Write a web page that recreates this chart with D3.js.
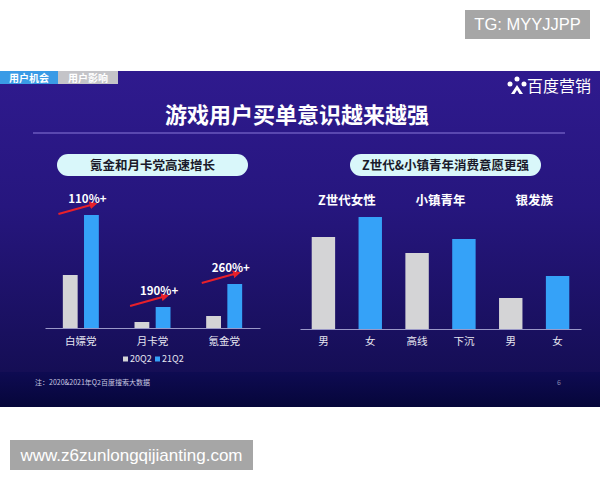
<!DOCTYPE html>
<html><head><meta charset="utf-8">
<script src="https://cdn.jsdelivr.net/npm/d3@7"></script>
<style>body{margin:0;background:#fff}svg{display:block}text{font-family:"Noto Sans CJK SC","Noto Sans",sans-serif}text.wm{font-family:"Liberation Sans",Arial,sans-serif}</style>
</head><body><svg id="c" width="600" height="480"></svg>
<script>
// Left chart data
const leftCategories = ["白嫖党","月卡党","氪金党"];
const leftSeries = ["20Q2","21Q2"];
const left20Q2 = [53, 6, 12];
const left21Q2 = [113, 21, 44];
const growthLabels = ["110%+","190%+","260%+"];
// Right chart data
const rightCategories = ["男","女","高线","下沉","男","女"];
const rightValues = [92, 112, 76, 90, 31, 53];
const rightGroups = ["Z世代女性","小镇青年","银发族"];

const svg = d3.select("#c");
const defs = svg.append("defs");
const bg = defs.append("linearGradient").attr("id","bg").attr("x1",0).attr("y1",0).attr("x2",0).attr("y2",1);
bg.append("stop").attr("offset","0").attr("stop-color","#2f1a8e");
bg.append("stop").attr("offset","0.45").attr("stop-color","#26167e");
bg.append("stop").attr("offset","1").attr("stop-color","#150e55");
const ft = defs.append("linearGradient").attr("id","ft").attr("x1",0).attr("y1",0).attr("x2",0).attr("y2",1);
ft.append("stop").attr("offset","0").attr("stop-color","#0e0b52");
ft.append("stop").attr("offset","1").attr("stop-color","#06063a");
const ar = defs.append("marker").attr("id","arr").attr("viewBox","0 0 10 10").attr("refX",6).attr("refY",5)
  .attr("markerWidth",4).attr("markerHeight",4).attr("orient","auto");
ar.append("path").attr("d","M0,0L10,5L0,10z").attr("fill","#e8202a");

// slide
svg.append("rect").attr("x",0).attr("y",71).attr("width",600).attr("height",301).attr("fill","url(#bg)");
svg.append("rect").attr("x",0).attr("y",372).attr("width",600).attr("height",35).attr("fill","url(#ft)");

// tabs
svg.append("rect").attr("x",0).attr("y",71).attr("width",58).attr("height",13).attr("fill","#3a9be6");
svg.append("rect").attr("x",58).attr("y",71).attr("width",60).attr("height",13).attr("fill","#c4c4c8");
svg.append("text").attr("x",29).attr("y",81.5).attr("text-anchor","middle").attr("font-size",10).attr("font-weight","bold").attr("fill","#fff").text("用户机会");
svg.append("text").attr("x",88).attr("y",81.5).attr("text-anchor","middle").attr("font-size",10).attr("font-weight","bold").attr("fill","#fff").text("用户影响");

// logo
const lg = svg.append("g").attr("transform","translate(517,86)");
lg.append("circle").attr("cx",-7).attr("cy",-2).attr("r",2.5).attr("fill","#fff");
lg.append("circle").attr("cx",0).attr("cy",-7).attr("r",2.5).attr("fill","#fff");
lg.append("circle").attr("cx",7).attr("cy",-2).attr("r",2.5).attr("fill","#fff");
lg.append("path").attr("d","M-6,8L0,-1L6,8L2.5,8L0,4L-2.5,8z").attr("fill","#fff");
svg.append("text").attr("x",527).attr("y",92).attr("font-size",16).attr("fill","#fff").text("百度营销");

// title
svg.append("text").attr("x",297).attr("y",123).attr("text-anchor","middle").attr("font-size",22).attr("font-weight","bold").attr("fill","#fff").text("游戏用户买单意识越来越强");
svg.append("line").attr("x1",33).attr("x2",565).attr("y1",133).attr("y2",133).attr("stroke","#8a78d8").attr("stroke-width",1);

// pills
[[57,"氪金和月卡党高速增长"],[350,"Z世代&小镇青年消费意愿更强"]].forEach(([x,t])=>{
  svg.append("rect").attr("x",x).attr("y",154).attr("width",191).attr("height",22).attr("rx",11).attr("fill","#d9f7fa");
  svg.append("text").attr("x",x+95.5).attr("y",169.5).attr("text-anchor","middle").attr("font-size",12.5).attr("font-weight","bold").attr("fill","#1a1a2a").text(t);
});

const GRAY="#d4d4d6", BLUE="#35a2f8";

// left chart
const lx = d3.scaleBand().domain(leftCategories).range([45,260]);
const lx1 = d3.scaleBand().domain(leftSeries).range([-18,18]).paddingInner(0.3);
const ly = d3.scaleLinear().domain([0,120]).range([328,208]);
const lg2 = svg.append("g");
leftCategories.forEach((c,i)=>{
  const cx = lx(c)+lx.bandwidth()/2;
  [[left20Q2[i],"20Q2",GRAY],[left21Q2[i],"21Q2",BLUE]].forEach(([v,s,col])=>{
    lg2.append("rect").attr("x",cx+lx1(s)).attr("width",lx1.bandwidth()).attr("y",ly(v)).attr("height",ly(0)-ly(v)).attr("fill",col);
  });
  const topY = ly(left21Q2[i]);
  const bx = cx+lx1("21Q2")+lx1.bandwidth()/2;
  lg2.append("line").attr("x1",bx-33).attr("y1",topY-1).attr("x2",bx+3).attr("y2",topY-11)
    .attr("stroke","#e8202a").attr("stroke-width",2).attr("marker-end","url(#arr)");
  lg2.append("text").attr("x",bx-4).attr("y",topY-12).attr("text-anchor","middle").attr("font-size",11.5).attr("font-weight","bold").attr("fill","#fff").text(growthLabels[i]);
});
const laxis = svg.append("g").attr("transform","translate(0,328)").call(d3.axisBottom(lx).tickSize(0).tickPadding(10));
laxis.select(".domain").attr("stroke","#9a98c8").attr("stroke-width",1);
laxis.selectAll("text").attr("fill","#e6e6f0").attr("font-size",10.5);

// legend
const leg = svg.append("g");
[[123,"20Q2",GRAY],[155,"21Q2",BLUE]].forEach(([x,t,col])=>{
  leg.append("rect").attr("x",x).attr("y",356.5).attr("width",5).attr("height",5).attr("fill",col);
  leg.append("text").attr("x",x+7).attr("y",362).attr("font-size",9).attr("fill","#e6e6f0").text(t);
});

// right chart
const rx = d3.scaleBand().domain(d3.range(rightCategories.length)).range([300,581]).paddingInner(0.5).paddingOuter(0.25);
const ry = d3.scaleLinear().domain([0,120]).range([329,209]);
svg.append("g").selectAll("rect").data(rightValues).join("rect")
  .attr("x",(d,i)=>rx(i)).attr("width",rx.bandwidth()).attr("y",d=>ry(d)).attr("height",d=>ry(0)-ry(d))
  .attr("fill",(d,i)=>i%2===0?GRAY:BLUE);
const raxis = svg.append("g").attr("transform","translate(0,329)").call(d3.axisBottom(rx).tickSize(0).tickPadding(9).tickFormat(i=>rightCategories[i]));
raxis.select(".domain").attr("stroke","#9a98c8").attr("stroke-width",1);
raxis.selectAll("text").attr("fill","#e6e6f0").attr("font-size",10.5);
rightGroups.forEach((g,k)=>{
  const cx = (rx(2*k)+rx(2*k+1)+rx.bandwidth())/2;
  svg.append("text").attr("x",cx).attr("y",205).attr("text-anchor","middle").attr("font-size",12.5).attr("font-weight","bold").attr("fill","#fff").text(g);
});

// footer
svg.append("text").attr("x",35).attr("y",385).attr("font-size",7).attr("fill","#c8c8e0").text("注：2020&2021年Q2百度搜索大数据");
svg.append("text").attr("x",557).attr("y",385).attr("font-size",7).attr("fill","#8888b0").text("6");

// watermarks
svg.append("rect").attr("x",465).attr("y",10).attr("width",125).attr("height",29).attr("fill","#a6a6a6");
svg.append("text").attr("class","wm").attr("x",527.5).attr("y",30).attr("text-anchor","middle").attr("font-size",16.5).attr("fill","#fff").text("TG: MYYJJPP");
svg.append("rect").attr("x",10).attr("y",440).attr("width",243).attr("height",30).attr("fill","#a6a6a6");
svg.append("text").attr("class","wm").attr("x",131.5).attr("y",461).attr("text-anchor","middle").attr("font-size",17).attr("fill","#fff").text("www.z6zunlongqijianting.com");
</script></body></html>
